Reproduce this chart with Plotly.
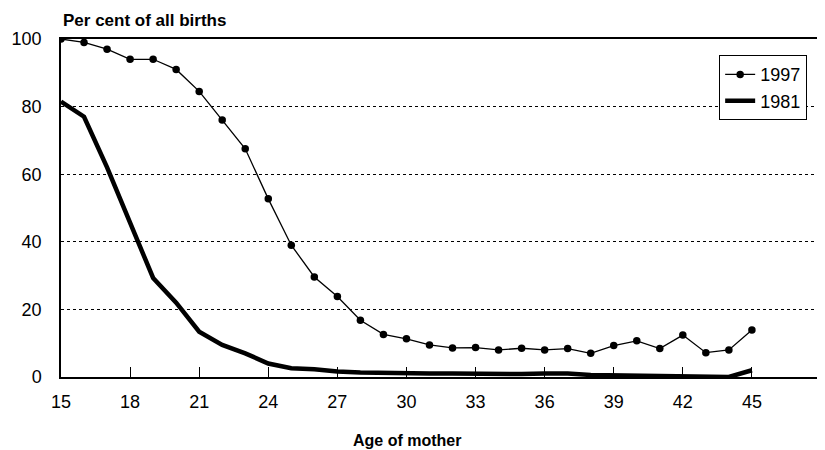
"""
Share of births outside marriage by age of mother, 1981 vs 1997
"""
import plotly.graph_objects as go

ages = list(range(15, 46))
births_1997 = [100, 99, 97, 94, 94, 91, 84.5, 76, 67.5, 52.7, 39, 29.6, 23.8, 16.8, 12.6, 11.3,
               9.5, 8.6, 8.7, 8, 8.5, 8, 8.4, 7, 9.3, 10.7, 8.4, 12.4, 7.2, 8, 13.9]
births_1981 = [81.5, 77, 62, 46, 29.3, 22, 13.4, 9.5, 7, 4, 2.6, 2.3, 1.6, 1.3, 1.1, 1,
               1, 1, 0.9, 0.8, 0.9, 1, 1, 0.6, 0.5, 0.5, 0.3, 0.3, 0, 0, 2]
x_ticks = [15, 18, 21, 24, 27, 30, 33, 36, 39, 42, 45]
y_ticks = [0, 20, 40, 60, 80, 100]

FONT = "Liberation Sans, Arial, sans-serif"

fig = go.Figure()
fig.add_trace(go.Scatter(
    x=ages, y=births_1997, name="1997", mode="lines+markers",
    line=dict(color="black", width=1.3),
    marker=dict(color="black", size=7.5),
))
fig.add_trace(go.Scatter(
    x=ages, y=births_1981, name="1981", mode="lines",
    line=dict(color="black", width=4.5),
))

# page body has an 8px margin, so the figure is sized 8px smaller
fig.update_layout(
    width=817, height=442,
    margin=dict(l=53, r=2, t=31, b=73),
    plot_bgcolor="white", paper_bgcolor="white",
    font=dict(family=FONT, color="black", size=18),
    showlegend=True,
    legend=dict(
        x=0.866, y=0.952, xanchor="left", yanchor="top",
        bordercolor="black", borderwidth=1, bgcolor="white",
        font=dict(size=18), tracegroupgap=0, itemwidth=30,
    ),
)
fig.update_xaxes(
    range=[15, 48], tickvals=x_ticks, ticks="inside", ticklen=10,
    tickcolor="black", showline=True, linecolor="black", linewidth=1.5,
    mirror=True, showgrid=False, zeroline=False,
    tickfont=dict(size=18), ticklabelstandoff=8,
)
fig.update_yaxes(
    range=[0, 100], tickvals=y_ticks, ticks="",
    showline=True, linecolor="black", linewidth=1.5, mirror=True,
    showgrid=True, gridcolor="black", griddash="dot", gridwidth=1,
    zeroline=False, tickfont=dict(size=18), ticklabelstandoff=14,
)
fig.add_annotation(
    text="<b>Per cent of all births</b>", xref="paper", yref="paper",
    x=0, y=1.0, yshift=19, xanchor="left", yanchor="middle",
    showarrow=False, font=dict(size=17),
)
fig.add_annotation(
    text="<b>Age of mother</b>", xref="paper", yref="paper",
    x=(400 - 53) / 762, y=0, yshift=-63, xanchor="center", yanchor="middle",
    showarrow=False, font=dict(size=16),
)

fig.write_html("out.html")
